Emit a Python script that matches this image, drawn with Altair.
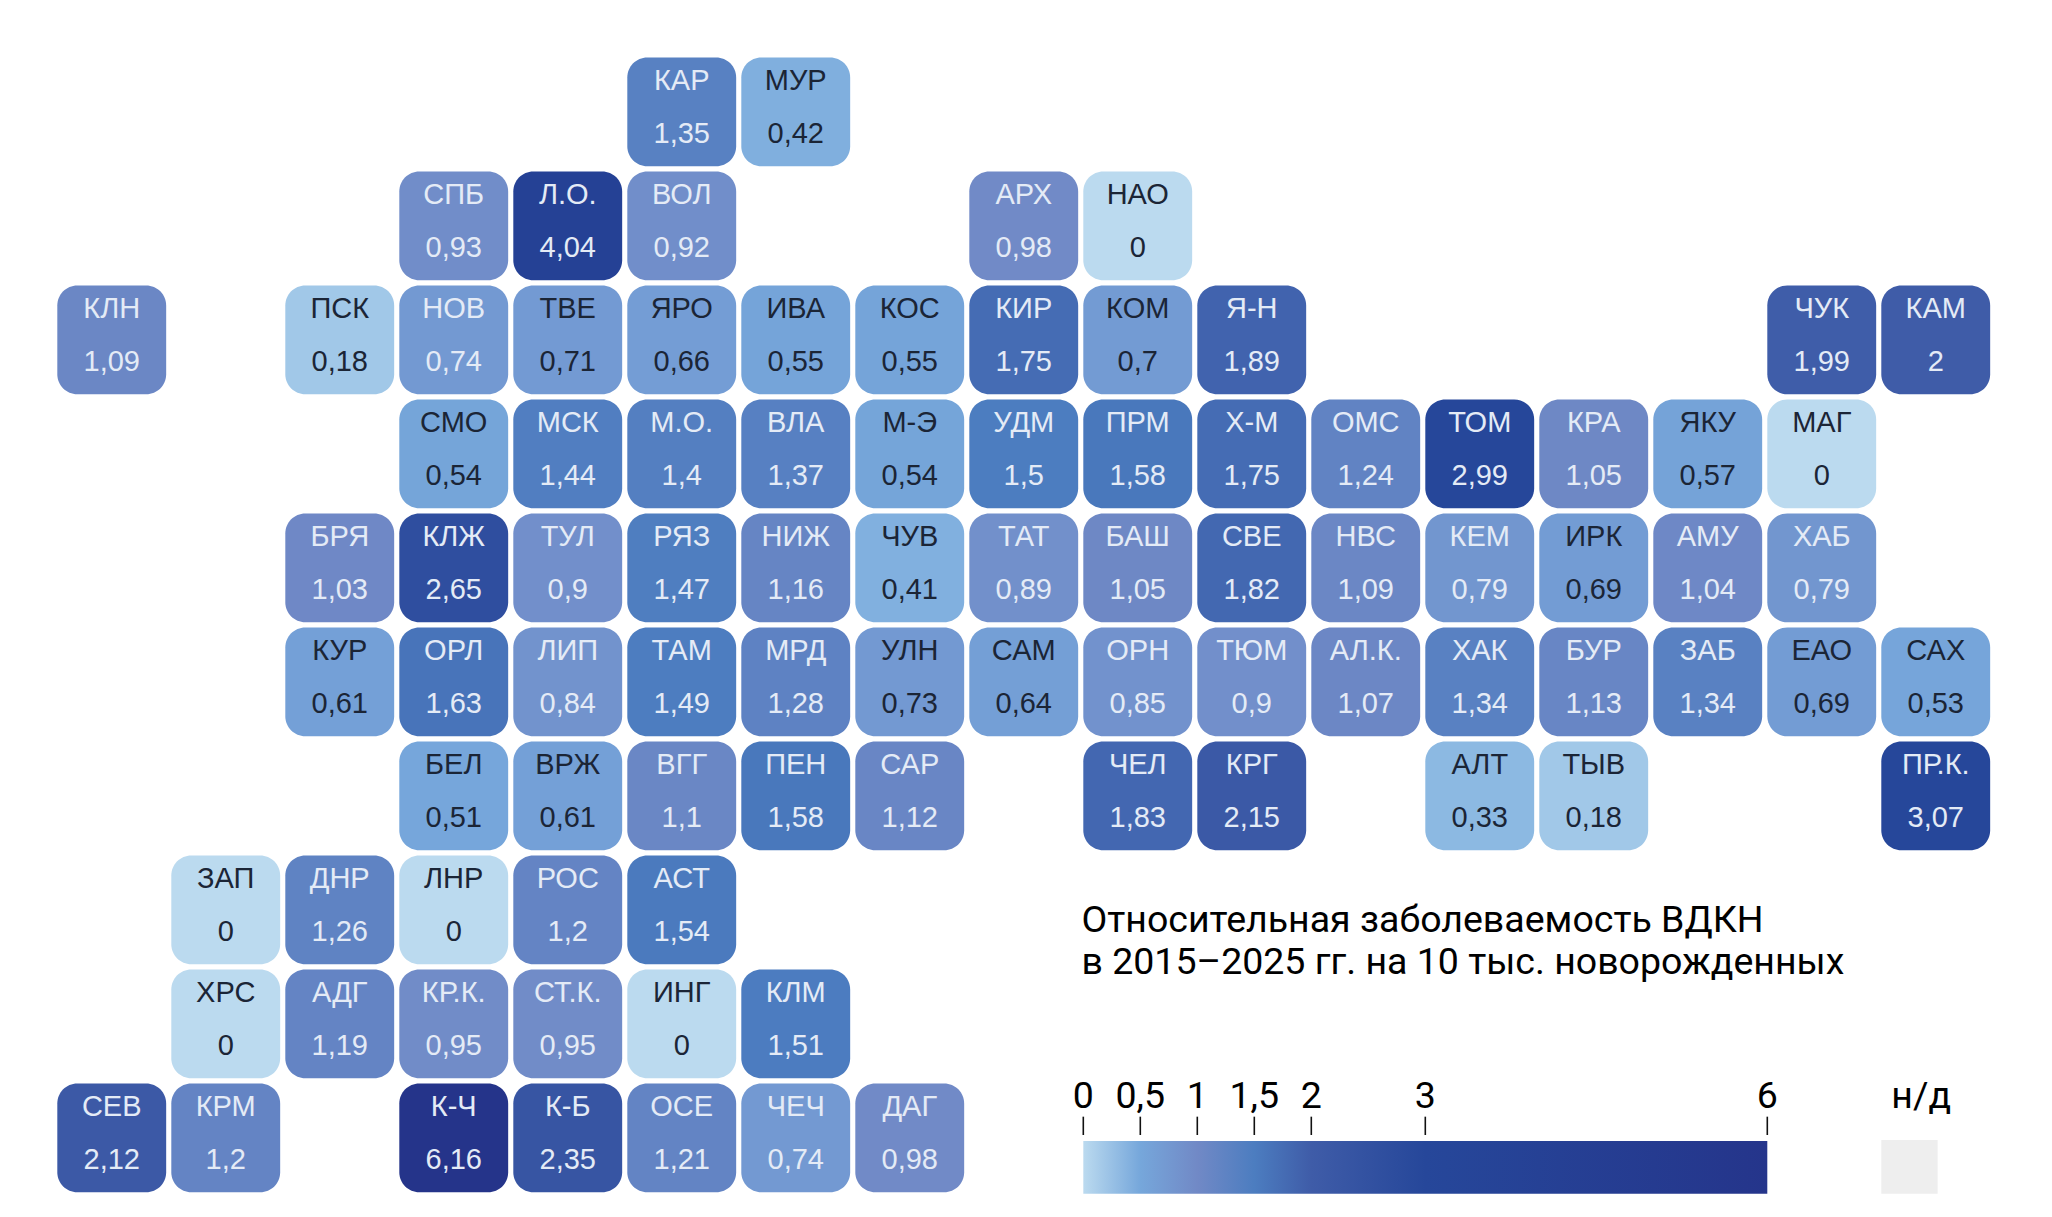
import altair as alt
import pandas as pd

codes = ["КАР","МУР",
         "СПБ","Л.О.","ВОЛ","АРХ","НАО",
         "КЛН","ПСК","НОВ","ТВЕ","ЯРО","ИВА","КОС","КИР","КОМ","Я-Н","ЧУК","КАМ",
         "СМО","МСК","М.О.","ВЛА","М-Э","УДМ","ПРМ","Х-М","ОМС","ТОМ","КРА","ЯКУ","МАГ",
         "БРЯ","КЛЖ","ТУЛ","РЯЗ","НИЖ","ЧУВ","ТАТ","БАШ","СВЕ","НВС","КЕМ","ИРК","АМУ","ХАБ",
         "КУР","ОРЛ","ЛИП","ТАМ","МРД","УЛН","САМ","ОРН","ТЮМ","АЛ.К.","ХАК","БУР","ЗАБ","ЕАО","САХ",
         "БЕЛ","ВРЖ","ВГГ","ПЕН","САР","ЧЕЛ","КРГ","АЛТ","ТЫВ","ПР.К.",
         "ЗАП","ДНР","ЛНР","РОС","АСТ",
         "ХРС","АДГ","КР.К.","СТ.К.","ИНГ","КЛМ",
         "СЕВ","КРМ","К-Ч","К-Б","ОСЕ","ЧЕЧ","ДАГ"]
values = [1.35,0.42,
          0.93,4.04,0.92,0.98,0,
          1.09,0.18,0.74,0.71,0.66,0.55,0.55,1.75,0.7,1.89,1.99,2,
          0.54,1.44,1.4,1.37,0.54,1.5,1.58,1.75,1.24,2.99,1.05,0.57,0,
          1.03,2.65,0.9,1.47,1.16,0.41,0.89,1.05,1.82,1.09,0.79,0.69,1.04,0.79,
          0.61,1.63,0.84,1.49,1.28,0.73,0.64,0.85,0.9,1.07,1.34,1.13,1.34,0.69,0.53,
          0.51,0.61,1.1,1.58,1.12,1.83,2.15,0.33,0.18,3.07,
          0,1.26,0,1.2,1.54,
          0,1.19,0.95,0.95,0,1.51,
          2.12,1.2,6.16,2.35,1.21,0.74,0.98]
cols = [5,6,
        3,4,5,8,9,
        0,2,3,4,5,6,7,8,9,10,15,16,
        3,4,5,6,7,8,9,10,11,12,13,14,15,
        2,3,4,5,6,7,8,9,10,11,12,13,14,15,
        2,3,4,5,6,7,8,9,10,11,12,13,14,15,16,
        3,4,5,6,7,9,10,12,13,16,
        1,2,3,4,5,
        1,2,3,4,5,6,
        0,1,3,4,5,6,7]
row_sizes = [2,5,12,13,14,15,10,5,6,7]

stop_values = [0, 0.5, 1, 1.5, 2, 3, 6]
stop_colors = ["#bbdaef", "#76a7db", "#7189c6", "#4c7dc0", "#3f5ca8", "#26479a", "#25358b"]

tick_values = [0, 0.5, 1, 1.5, 2, 3, 6]
tick_labels = ["0", "0,5", "1", "1,5", "2", "3", "6"]
title_lines = ["Относительная заболеваемость ВДКН", "в 2015–2025 гг. на 10 тыс. новорожденных"]
no_data_label = "н/д"

rows = [r for r, n in enumerate(row_sizes) for _ in range(n)]
df = pd.DataFrame({"code": codes, "value": values, "col": cols, "row": rows})
TILE = 0.955
df["col2"] = df["col"] + TILE
df["row2"] = df["row"] + TILE
df["xc"] = df["col"] + TILE / 2
df["y_code"] = df["row"] + 0.284
df["y_val"] = df["row"] + 0.746
df["label"] = [f"{v:g}".replace(".", ",") for v in df["value"]]
df["ink"] = ["#1b2536" if v < 0.74 else "#e4ebf6" for v in df["value"]]

xs = alt.Scale(domain=[-0.4325, 17.4272], nice=False, zero=False)
ys = alt.Scale(domain=[-0.4342, 10.1009], nice=False, zero=False, reverse=True)
X = lambda f: alt.X(f, type="quantitative", scale=xs, axis=None)
Y = lambda f: alt.Y(f, type="quantitative", scale=ys, axis=None)
color_scale = alt.Scale(domain=stop_values, range=stop_colors)

tiles = alt.Chart(df).mark_rect(cornerRadius=20).encode(
    x=X("col"), x2="col2", y=Y("row"), y2="row2",
    color=alt.Color("value:Q", scale=color_scale, legend=None),
)
FONT = "Liberation Sans"
code_text = alt.Chart(df).mark_text(font=FONT, fontSize=29, baseline="alphabetic").encode(
    x=X("xc"), y=Y("y_code"), text="code:N", color=alt.Color("ink:N", scale=None))
val_text = alt.Chart(df).mark_text(font=FONT, fontSize=29, baseline="alphabetic").encode(
    x=X("xc"), y=Y("y_val"), text="label:N", color=alt.Color("ink:N", scale=None))

# legend: one value unit equals one grid column, starting at column 9
LEG0 = 9.0
bar_df = pd.DataFrame({"x": [LEG0], "x2": [LEG0 + max(stop_values)], "y": [9.504], "y2": [9.967]})
bar = alt.Chart(bar_df).mark_rect(
    color=alt.Gradient(
        gradient="linear", x1=0, x2=1, y1=0, y2=0,
        stops=[alt.GradientStop(offset=v / max(stop_values), color=c) for v, c in zip(stop_values, stop_colors)],
    )
).encode(x=X("x"), x2="x2", y=Y("y"), y2="y2")

tick_df = pd.DataFrame({"x": [LEG0 + v for v in tick_values], "t": tick_labels,
                        "y": 9.291, "y2": 9.452, "yl": 9.215})
ticks = alt.Chart(tick_df).mark_rule(color="#111111", strokeWidth=1.6).encode(x=X("x"), y=Y("y"), y2="y2")
tick_text = alt.Chart(tick_df).mark_text(font="Roboto", fontSize=37.5, baseline="alphabetic", color="#000000").encode(
    x=X("x"), y=Y("yl"), text="t:N")

title_df = pd.DataFrame({"x": 8.984, "y": [7.668, 8.04], "t": title_lines})
title_text = alt.Chart(title_df).mark_text(font="Roboto", fontSize=37.5, align="left", baseline="alphabetic", color="#000000").encode(
    x=X("x"), y=Y("y"), text="t:N")

nd_df = pd.DataFrame({"x": [16.0], "x2": [16.494], "y": [9.496], "y2": [9.967], "xl": [16.35], "yl": [9.215], "t": [no_data_label]})
nd_rect = alt.Chart(nd_df).mark_rect(color="#eeeeee").encode(x=X("x"), x2="x2", y=Y("y"), y2="y2")
nd_text = alt.Chart(nd_df).mark_text(font="Roboto", fontSize=37.5, baseline="alphabetic", color="#000000").encode(
    x=X("xl"), y=Y("yl"), text="t:N")

chart = alt.layer(tiles, code_text, val_text, title_text, bar, ticks, tick_text, nd_rect, nd_text).properties(
    width=2036, height=1201, padding=0, autosize=alt.AutoSizeParams(type="none"),
).configure_view(stroke=None)

chart.save("out.html", embed_options={"renderer": "svg", "actions": False})
